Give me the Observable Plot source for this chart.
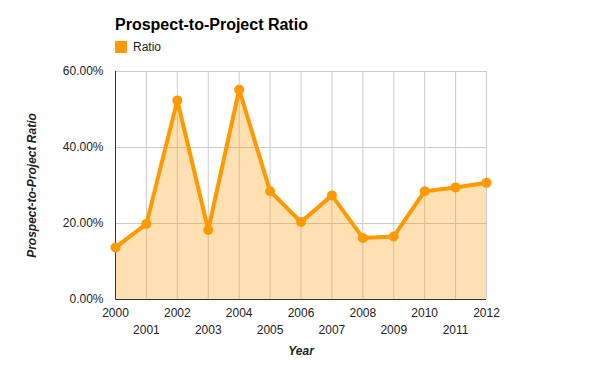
<!DOCTYPE html>
<html>
<head>
<meta charset="utf-8">
<script src="https://cdn.jsdelivr.net/npm/d3@7"></script>
<script src="https://cdn.jsdelivr.net/npm/@observablehq/plot@0.6"></script>
<style>
  body { margin: 0; background: #fff; font-family: "Liberation Sans", Arial, sans-serif; }
  #wrap { width: 600px; position: relative; }
  #head { height: 60px; position: relative; }
  #title { position: absolute; left: 115px; top: 16px; font-size: 16px; font-weight: bold; color: #000; }
  #legend { position: absolute; left: 115px; top: 40px; font-size: 12px; color: #222; display: flex; align-items: center; }
  #legend span.sw { width: 12px; height: 12px; background: #ff9900; display: inline-block; margin-right: 6px; }
</style>
</head>
<body>
<div id="wrap">
  <div id="head">
    <div id="title">Prospect-to-Project Ratio</div>
    <div id="legend"><span class="sw"></span><span>Ratio</span></div>
  </div>
  <div id="chart"></div>
</div>
<script>
const years = [2000, 2001, 2002, 2003, 2004, 2005, 2006, 2007, 2008, 2009, 2010, 2011, 2012];
const ratio = [0.137, 0.199, 0.524, 0.183, 0.552, 0.285, 0.204, 0.274, 0.162, 0.166, 0.285, 0.295, 0.307];
const yTicks = [0, 0.2, 0.4, 0.6];
const evenYears = years.filter(y => y % 2 === 0);
const oddYears = years.filter(y => y % 2 === 1);

const data = years.map((y, i) => ({year: y, ratio: ratio[i]}));
const orange = "#ff9900";
const font = "Liberation Sans, Arial, sans-serif";

const chart = Plot.plot({
  width: 600,
  height: 311,
  marginTop: 11,
  marginBottom: 72,
  marginLeft: 115,
  marginRight: 114,
  style: {fontFamily: font, fontSize: "12px", color: "#222", background: "#fff"},
  x: {domain: [2000, 2012]},
  y: {domain: [0, 0.6]},
  marks: [
    Plot.gridX(years, {stroke: "#ccc", strokeOpacity: 1, strokeWidth: 1}),
    Plot.gridY(yTicks, {stroke: "#ccc", strokeOpacity: 1, strokeWidth: 1}),
    Plot.areaY(data, {x: "year", y: "ratio", fill: orange, fillOpacity: 0.3}),
    Plot.ruleX([2000], {stroke: "#333", strokeWidth: 1}),
    Plot.ruleY([0], {stroke: "#333", strokeWidth: 1}),
    Plot.line(data, {x: "year", y: "ratio", stroke: orange, strokeWidth: 4, strokeLinejoin: "round"}),
    Plot.dot(data, {x: "year", y: "ratio", r: 5, fill: orange, stroke: "none"}),
    Plot.axisY(yTicks, {tickSize: 0, tickPadding: 12, tickFormat: d => (d * 100).toFixed(2) + "%", label: null, fontSize: 12, fill: "#222"}),
    Plot.axisX(evenYears, {tickSize: 0, tickPadding: 9, tickFormat: d => String(d), label: null, fontSize: 12, fill: "#222"}),
    Plot.axisX(oddYears, {tickSize: 0, tickPadding: 26, tickFormat: d => String(d), label: null, fontSize: 12, fill: "#222"}),
    Plot.text(["Year"], {frameAnchor: "bottom", dy: 52, lineAnchor: "middle", textAnchor: "middle", text: d => d, fontWeight: "bold", fontStyle: "italic", fontSize: 12, fill: "#222"}),
    Plot.text(["Prospect-to-Project Ratio"], {frameAnchor: "left", dx: -83, rotate: -90, textAnchor: "middle", lineAnchor: "middle", text: d => d, fontWeight: "bold", fontStyle: "italic", fontSize: 12, fill: "#222"})
  ]
});
document.getElementById("chart").appendChild(chart);
</script>
</body>
</html>
